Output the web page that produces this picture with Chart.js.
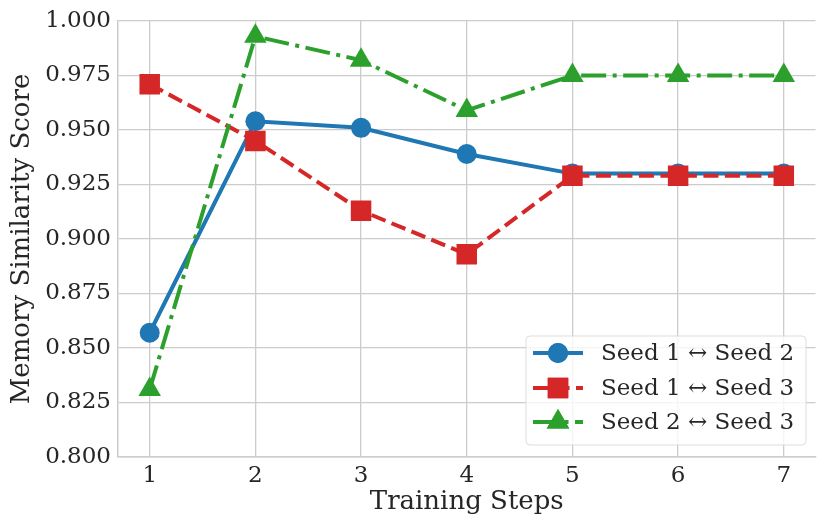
<!DOCTYPE html>
<html>
<head>
<meta charset="utf-8">
<script src="https://cdn.jsdelivr.net/npm/chart.js@4"></script>
<style>
  html, body { margin: 0; padding: 0; background: #fff; }
  #wrap { width: 830px; height: 530px; }
</style>
</head>
<body>
<div id="wrap"><canvas id="chart" width="830" height="530"></canvas></div>
<script>
// Data
const steps = [1, 2, 3, 4, 5, 6, 7]
const seed12 = [0.857, 0.954, 0.951, 0.939, 0.930, 0.930, 0.930]
const seed13 = [0.971, 0.945, 0.913, 0.893, 0.929, 0.929, 0.929]
const seed23 = [0.831, 0.993, 0.982, 0.959, 0.975, 0.975, 0.975]
const seriesLabels = ["Seed 1 \u2194 Seed 2", "Seed 1 \u2194 Seed 3", "Seed 2 \u2194 Seed 3"]
const yTicks = [0.800, 0.825, 0.850, 0.875, 0.900, 0.925, 0.950, 0.975, 1.000]

const FONT = "'DejaVu Serif', serif"
const TEXT = "#262626"
const GRID = "#cccccc"

const styles = [
    { color: "#1f77b4", point: "circle", radius: 10, dash: [] },
    { color: "#d62728", point: "rect", radius: 14.5, dash: [15, 6.5] },
    { color: "#2ca02c", point: "triangle", radius: 13, dash: [25, 6.5, 4, 6.5] }
]

function makeDataset(i, values) {
    const s = styles[i]
    return {
        label: seriesLabels[i],
        data: steps.map((x, j) => ({ x: x, y: values[j] })),
        borderColor: s.color,
        backgroundColor: s.color,
        borderWidth: 4,
        borderDash: s.dash,
        pointStyle: s.point,
        pointRadius: s.radius,
        pointHoverRadius: s.radius,
        pointBorderWidth: 0,
        pointBackgroundColor: s.color,
        tension: 0,
        order: 3 - i
    }
}

// Legend with line + marker samples, like matplotlib draws it
const lineLegend = {
    id: "lineLegend",
    afterDatasetsDraw(chart) {
        const ctx = chart.ctx
        const x0 = 526, y0 = 336, w = 280, h = 109
        ctx.save()
        ctx.beginPath()
        ctx.roundRect(x0, y0, w, h, 4)
        ctx.fillStyle = "rgba(255,255,255,0.8)"
        ctx.fill()
        ctx.strokeStyle = "#dddddd"
        ctx.lineWidth = 1
        ctx.stroke()

        const rows = [353, 388, 422]
        rows.forEach((y, i) => {
            const s = styles[i]
            ctx.strokeStyle = s.color
            ctx.lineWidth = 4
            ctx.setLineDash(s.dash)
            ctx.beginPath()
            ctx.moveTo(533, y)
            ctx.lineTo(583, y)
            ctx.stroke()
            ctx.setLineDash([])
            ctx.fillStyle = s.color
            Chart.helpers.drawPoint(ctx, { pointStyle: s.point, radius: s.radius, borderWidth: 0 }, 558, y)
            ctx.fill()

            ctx.fillStyle = TEXT
            ctx.font = "23px " + FONT
            ctx.textBaseline = "middle"
            ctx.textAlign = "left"
            ctx.fillText(seriesLabels[i], 601, y + 1)
        })
        ctx.restore()
    }
}

const chart = new Chart(document.getElementById("chart"), {
    type: "line",
    data: {
        datasets: [makeDataset(0, seed12), makeDataset(1, seed13), makeDataset(2, seed23)]
    },
    options: {
        responsive: false,
        animation: false,
        layout: { padding: { top: 21, right: 12, left: 0, bottom: 0 } },
        plugins: {
            legend: { display: false },
            tooltip: { enabled: false }
        },
        scales: {
            x: {
                type: "linear",
                min: 0.7,
                max: 7.3,
                afterBuildTicks: (scale) => { scale.ticks = steps.map(v => ({ value: v })) },
                afterFit: (scale) => { scale.height = 73 },
                grid: { color: GRID, lineWidth: 1.3, drawTicks: false },
                border: { display: true, color: GRID, width: 1.5 },
                ticks: { color: TEXT, font: { family: FONT, size: 23 }, padding: 5 },
                title: {
                    display: true,
                    text: "Training Steps",
                    color: TEXT,
                    font: { family: FONT, size: 26 },
                    padding: { top: 0, bottom: 12 }
                }
            },
            y: {
                min: 0.8,
                max: 1.0,
                afterBuildTicks: (scale) => { scale.ticks = yTicks.map(v => ({ value: v })) },
                afterFit: (scale) => { scale.width = 118 },
                grid: { color: GRID, lineWidth: 1.3, drawTicks: false },
                border: { display: true, color: GRID, width: 1.5 },
                ticks: {
                    color: TEXT,
                    font: { family: FONT, size: 23 },
                    padding: 7,
                    callback: (v) => Number(v).toFixed(3)
                },
                title: {
                    display: true,
                    text: "Memory Similarity Score",
                    color: TEXT,
                    font: { family: FONT, size: 26 },
                    padding: { top: 7, bottom: 0 }
                }
            }
        }
    },
    plugins: [lineLegend]
})
</script>
</body>
</html>
